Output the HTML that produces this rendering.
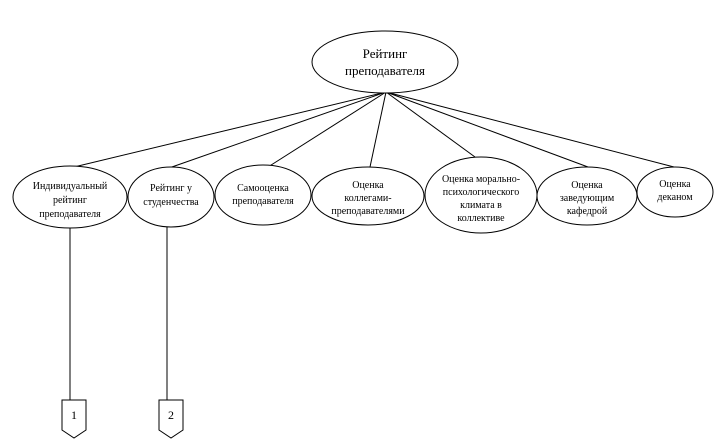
<!DOCTYPE html>
<html><head><meta charset="utf-8"><style>
html,body{margin:0;padding:0;background:#fff;}
svg{display:block;}
text{font-family:"Liberation Serif",serif;font-size:10px;fill:#000;text-anchor:middle;}
</style></head><body>
<svg width="721" height="448" viewBox="0 0 721 448" xmlns="http://www.w3.org/2000/svg">
<g stroke="#000" stroke-width="1" fill="none">
<line x1="386" y1="92" x2="74" y2="167"/>
<line x1="386" y1="92" x2="169" y2="168"/>
<line x1="386" y1="92" x2="268" y2="167"/>
<line x1="386" y1="92" x2="370" y2="167"/>
<line x1="386" y1="92" x2="475" y2="157"/>
<line x1="386" y1="92" x2="588" y2="167"/>
<line x1="386" y1="92" x2="674" y2="167"/>
<line x1="70" y1="228" x2="70" y2="400"/>
<line x1="167" y1="227" x2="167" y2="400"/>
</g>
<g stroke="#000" stroke-width="1" fill="#fff">
<ellipse cx="385" cy="62" rx="73" ry="31"/>
<ellipse cx="70" cy="197" rx="57" ry="31"/>
<ellipse cx="171" cy="197" rx="43" ry="30"/>
<ellipse cx="263" cy="195" rx="48" ry="30"/>
<ellipse cx="368" cy="196" rx="56" ry="29"/>
<ellipse cx="481" cy="195" rx="56" ry="38"/>
<ellipse cx="587" cy="196" rx="50" ry="29"/>
<ellipse cx="675" cy="192" rx="38" ry="25"/>
<polygon points="62,400 86,400 86,430 74,438 62,430"/>
<polygon points="159,400 183,400 183,430 171,438 159,430"/>
</g>
<text x="385" y="58" style="font-size:13px">Рейтинг</text>
<text x="385" y="75" style="font-size:13px">преподавателя</text>
<text x="70" y="189">Индивидуальный</text>
<text x="70" y="203">рейтинг</text>
<text x="70" y="217">преподавателя</text>
<text x="171" y="191">Рейтинг у</text>
<text x="171" y="205">студенчества</text>
<text x="263" y="191">Самооценка</text>
<text x="263" y="204">преподавателя</text>
<text x="368" y="188">Оценка</text>
<text x="368" y="201">коллегами-</text>
<text x="368" y="214">преподавателями</text>
<text x="481" y="182">Оценка морально-</text>
<text x="481" y="195">психологического</text>
<text x="481" y="208">климата в</text>
<text x="481" y="221">коллективе</text>
<text x="587" y="188">Оценка</text>
<text x="587" y="201">заведующим</text>
<text x="587" y="214">кафедрой</text>
<text x="675" y="187">Оценка</text>
<text x="675" y="200">деканом</text>
<text x="74" y="419" style="font-size:12px">1</text>
<text x="171" y="419" style="font-size:12px">2</text>
</svg>
</body></html>
